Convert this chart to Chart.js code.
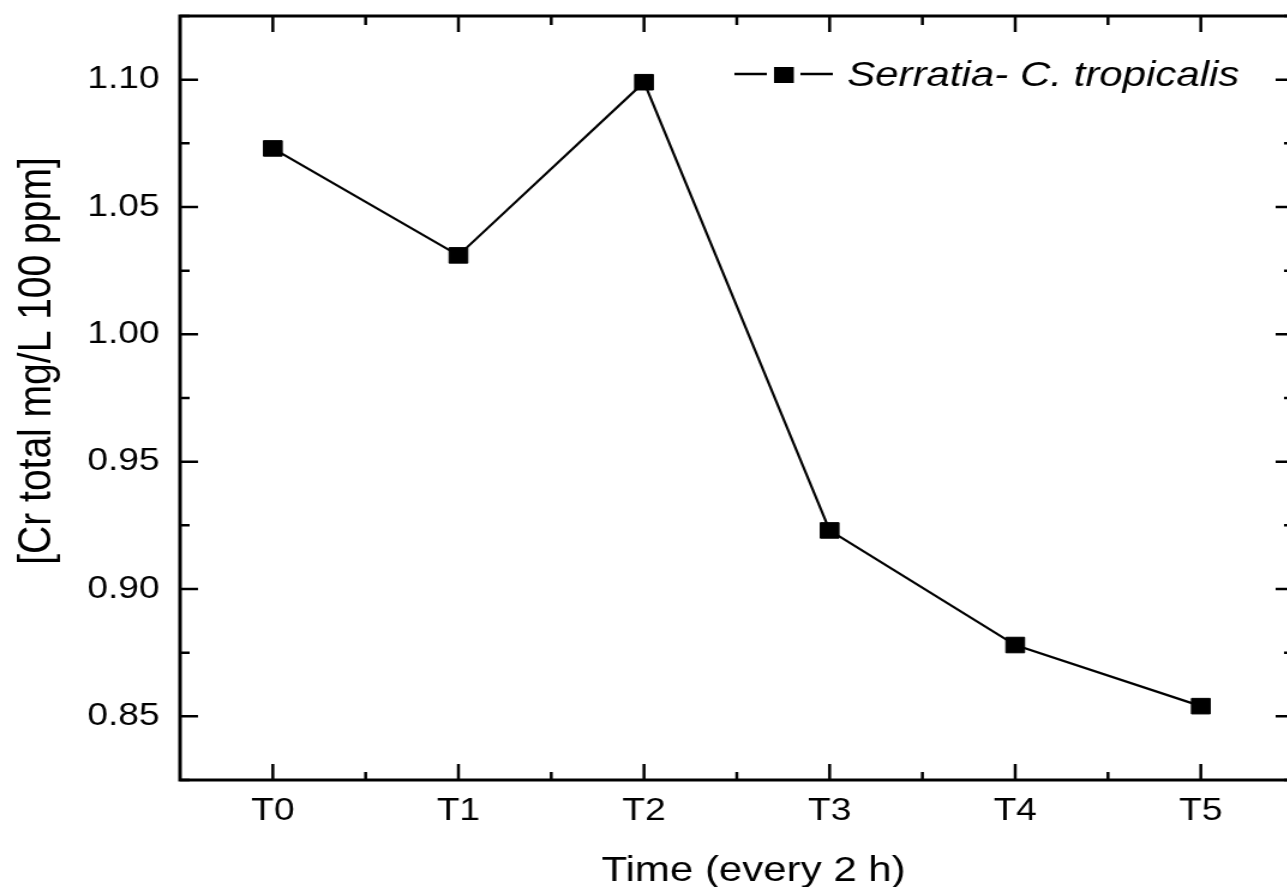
<!DOCTYPE html>
<html>
<head>
<meta charset="utf-8">
<script src="https://cdn.jsdelivr.net/npm/chart.js@4/dist/chart.umd.min.js"></script>
<style>
  html, body { margin: 0; padding: 0; background: #fff; overflow: hidden; }
  #zone { width: 1287px; height: 887px; overflow: hidden; }
  /* the reference picture is stretched sideways, so the canvas is too */
  #graphe { transform: scaleX(1.2); transform-origin: 0 0; }
</style>
</head>
<body>
<div id="zone">
  <canvas id="graphe" width="1090" height="887"></canvas>
</div>
<script>
// Donnees
let categories = ['T0', 'T1', 'T2', 'T3', 'T4', 'T5'];
let valeurs = [1.073, 1.031, 1.099, 0.923, 0.878, 0.854];
let ticksY = [0.85, 0.90, 0.95, 1.00, 1.05, 1.10];
let mineursY = [0.825, 0.875, 0.925, 0.975, 1.025, 1.075, 1.125];
let nomSerie = 'Serratia- C. tropicalis';
let titreX = 'Time (every 2 h)';
let titreY = '[Cr total mg/L 100 ppm]';

let police = '"Liberation Sans", Arial, Helvetica, sans-serif';

// cadre, ticks vers l'interieur, legende et titres
let cadre = {
    id: 'cadre',
    afterDraw(chart) {
        let ctx = chart.ctx;
        let a = chart.chartArea;
        let sx = chart.scales.x;
        let sy = chart.scales.y;
        ctx.save();
        ctx.strokeStyle = '#000';
        ctx.lineWidth = 3;
        ctx.strokeRect(a.left, a.top, a.right - a.left, a.bottom - a.top);

        ctx.lineWidth = 2.5;
        ctx.beginPath();
        // ticks Y (gauche et droite)
        ticksY.forEach(function (v) {
            let y = sy.getPixelForValue(v);
            ctx.moveTo(a.left, y); ctx.lineTo(a.left + 15, y);
            ctx.moveTo(a.right, y); ctx.lineTo(a.right - 15, y);
        });
        mineursY.forEach(function (v) {
            let y = sy.getPixelForValue(v);
            ctx.moveTo(a.left, y); ctx.lineTo(a.left + 8, y);
            ctx.moveTo(a.right, y); ctx.lineTo(a.right - 8, y);
        });
        // ticks X (bas et haut)
        categories.forEach(function (c, i) {
            let x = sx.getPixelForValue(i);
            ctx.moveTo(x, a.bottom); ctx.lineTo(x, a.bottom - 16);
            ctx.moveTo(x, a.top); ctx.lineTo(x, a.top + 16);
            let xm = sx.getPixelForValue(i + 0.5);
            ctx.moveTo(xm, a.bottom); ctx.lineTo(xm, a.bottom - 8);
            ctx.moveTo(xm, a.top); ctx.lineTo(xm, a.top + 9);
        });
        ctx.stroke();

        // legende
        ctx.lineWidth = 2.5;
        ctx.beginPath();
        ctx.moveTo(612, 74); ctx.lineTo(639, 74);
        ctx.moveTo(667, 74); ctx.lineTo(694, 74);
        ctx.stroke();
        ctx.fillStyle = '#000';
        ctx.fillRect(645, 67, 16.5, 16);
        ctx.font = 'italic 35px ' + police;
        ctx.textAlign = 'left';
        ctx.textBaseline = 'alphabetic';
        ctx.fillText(chart.data.datasets[0].label, 706, 86);

        // titres des axes
        ctx.font = '35px ' + police;
        ctx.textAlign = 'center';
        ctx.fillText(titreX, 628, 881);
        ctx.translate(42, 361);
        ctx.rotate(-Math.PI / 2);
        ctx.font = '39px ' + police;
        ctx.fillText(titreY, 0, 0);
        ctx.restore();
    }
};

let ctx = document.getElementById('graphe').getContext('2d');
let chart = new Chart(ctx, {
    type: 'line',
    data: {
        labels: categories,
        datasets: [{
            label: nomSerie,
            data: valeurs,
            borderColor: '#000',
            borderWidth: 2.2,
            backgroundColor: '#000',
            pointStyle: 'rect',
            pointRadius: 11,
            pointBorderWidth: 1,
            pointBorderColor: '#000',
            pointBackgroundColor: '#000',
            tension: 0
        }]
    },
    options: {
        responsive: false,
        devicePixelRatio: 1,
        animation: false,
        layout: { padding: { top: 16, right: 10, left: 0, bottom: 0 } },
        plugins: {
            legend: { display: false },
            tooltip: { enabled: false }
        },
        scales: {
            x: {
                type: 'category',
                offset: true,
                grid: { display: false, drawTicks: false },
                border: { display: false },
                ticks: {
                    color: '#000',
                    padding: 13,
                    font: { family: police, size: 31 }
                },
                afterFit: function (scale) {
                    scale.height = 107;
                    scale.paddingLeft = 0;
                    scale.paddingRight = 0;
                }
            },
            y: {
                min: 0.825,
                max: 1.125,
                grid: { display: false, drawTicks: false },
                border: { display: false },
                afterBuildTicks: function (scale) {
                    scale.ticks = ticksY.map(function (v) { return { value: v }; });
                },
                ticks: {
                    color: '#000',
                    padding: 17,
                    font: { family: police, size: 31 },
                    callback: function (v) { return Number(v).toFixed(2); }
                },
                afterFit: function (scale) {
                    scale.width = 150;
                    scale.paddingTop = 0;
                    scale.paddingBottom = 0;
                }
            }
        }
    },
    plugins: [cadre]
});
</script>
</body>
</html>
